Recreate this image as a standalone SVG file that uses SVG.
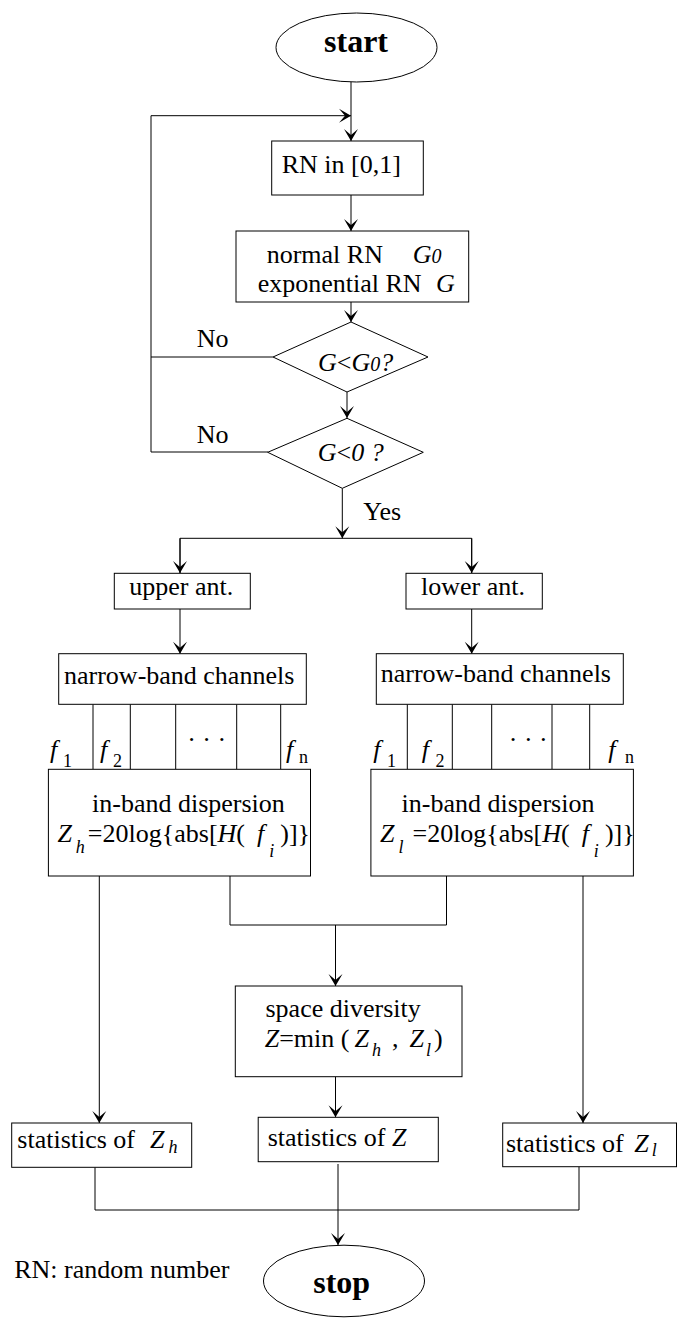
<svg xmlns="http://www.w3.org/2000/svg" width="677" height="1318" viewBox="0 0 677 1318">
<style>
.shape{fill:#fff;stroke:#000;stroke-width:1}
.ln{fill:none;stroke:#000;stroke-width:1}
.t{font-family:"Liberation Serif","Times New Roman",serif;font-size:26px;fill:#000}
.b{font-weight:bold;font-size:32px}
.i{font-style:italic}
.s{font-size:18px}
</style>
<defs>
<marker id="arr" markerUnits="userSpaceOnUse" viewBox="-13 -8 14 16" refX="0" refY="0" markerWidth="14" markerHeight="16" orient="auto">
<path d="M0,0 L-12,-7 L-6,0 L-12,7 z" fill="#000"/>
</marker>
</defs>
<rect width="677" height="1318" fill="#fff"/>

<g id="connectors">
<line class="ln" x1="351" y1="82" x2="351" y2="141" marker-end="url(#arr)"/>
<polyline class="ln" points="273,357 151,357 151,115.7 351,115.7" marker-end="url(#arr)"/>
<polyline class="ln" points="268,452 151,452 151,357"/>
<line class="ln" x1="351" y1="195" x2="351" y2="231" marker-end="url(#arr)"/>
<line class="ln" x1="351" y1="302" x2="351" y2="322" marker-end="url(#arr)"/>
<line class="ln" x1="347" y1="392" x2="347" y2="418" marker-end="url(#arr)"/>
<line class="ln" x1="342.3" y1="488.3" x2="342.3" y2="538.3" marker-end="url(#arr)"/>
<polyline class="ln" points="180,573 180,538.3 471.7,538.3 471.7,573"/>
<line class="ln" x1="180" y1="538.3" x2="180" y2="573" marker-end="url(#arr)"/>
<line class="ln" x1="471.7" y1="538.3" x2="471.7" y2="573" marker-end="url(#arr)"/>
<line class="ln" x1="180" y1="609" x2="180" y2="653.7" marker-end="url(#arr)"/>
<line class="ln" x1="471.7" y1="609" x2="471.7" y2="653.7" marker-end="url(#arr)"/>
<path class="ln" d="M93,704.3V769.3M130.3,704.3V769.3M175.7,704.3V769.3M236.7,704.3V769.3M280.7,704.3V769.3"/>
<path class="ln" d="M407.3,704.3V769.3M452.3,704.3V769.3M491.7,704.3V769.3M552,704.3V769.3M589.7,704.3V769.3"/>
<line class="ln" x1="99.3" y1="876" x2="99.3" y2="1123" marker-end="url(#arr)"/>
<line class="ln" x1="583" y1="876" x2="583" y2="1123" marker-end="url(#arr)"/>
<polyline class="ln" points="230,876 230,925 446.5,925 446.5,876"/>
<line class="ln" x1="335.5" y1="925" x2="335.5" y2="986" marker-end="url(#arr)"/>
<line class="ln" x1="335.5" y1="1076.7" x2="335.5" y2="1117.3" marker-end="url(#arr)"/>
<polyline class="ln" points="95,1167.3 95,1210 579,1210 579,1166.7"/>
<line class="ln" x1="338" y1="1164" x2="338" y2="1245" marker-end="url(#arr)"/>
<text class="t" x="196.7" y="346.7">No</text>
<text class="t" x="196.7" y="443.3">No</text>
<text class="t" x="363.3" y="520">Yes</text>
</g>

<g id="start">
<ellipse class="shape" cx="356.5" cy="47.5" rx="80.5" ry="34.5"/>
<text class="t b" x="356" y="52" text-anchor="middle">start</text>
</g>

<g id="rn01">
<rect class="shape" x="271.7" y="141" width="151.6" height="54"/>
<text class="t" x="281.7" y="173">RN in [0,1]</text>
</g>

<g id="rngen">
<rect class="shape" x="236" y="231" width="232.7" height="71"/>
<text class="t" x="266.7" y="263">normal RN</text>
<text class="t i" x="412.7" y="263">G<tspan font-size="20">0</tspan></text>
<text class="t" x="257.7" y="291.7">exponential RN</text>
<text class="t i" x="436" y="291.7">G</text>
</g>

<g id="dec1">
<polygon class="shape" points="351,322 428,357 347,392 273,357"/>
<text class="t" x="318" y="370.7"><tspan class="i">G</tspan>&lt;<tspan class="i">G</tspan><tspan class="i" font-size="20">0</tspan><tspan class="i">?</tspan></text>
</g>

<g id="dec2">
<polygon class="shape" points="347,418.3 423.3,452.3 342.3,488.3 267.7,452.3"/>
<text class="t" x="317.7" y="460.7"><tspan class="i">G</tspan>&lt;<tspan class="i">0 ?</tspan></text>
</g>

<g id="upperAnt">
<rect class="shape" x="114.3" y="573.3" width="136" height="35.7"/>
<text class="t" x="129.3" y="595">upper ant.</text>
</g>

<g id="lowerAnt">
<rect class="shape" x="406" y="573.3" width="136.3" height="35.7"/>
<text class="t" x="421" y="595">lower ant.</text>
</g>

<g id="nbUpper">
<rect class="shape" x="58.7" y="653.7" width="247.6" height="50.6"/>
<text class="t" x="64" y="684">narrow-band channels</text>
<text class="t i" x="50" y="758">f</text><text class="t s" x="63" y="766.7">1</text>
<text class="t i" x="100" y="758">f</text><text class="t s" x="113" y="766.7">2</text>
<text class="t" x="206.7" y="748" text-anchor="middle">· · ·</text>
<text class="t i" x="286" y="758">f</text><text class="t s" x="299" y="763">n</text>
</g>

<g id="nbLower">
<rect class="shape" x="376.3" y="653.7" width="247" height="50.6"/>
<text class="t" x="380.7" y="682">narrow-band channels</text>
<text class="t i" x="373.3" y="758">f</text><text class="t s" x="387" y="766.7">1</text>
<text class="t i" x="421.7" y="758">f</text><text class="t s" x="435.5" y="766.7">2</text>
<text class="t" x="528.3" y="748" text-anchor="middle">· · ·</text>
<text class="t i" x="608.3" y="758">f</text><text class="t s" x="625" y="763">n</text>
</g>

<g id="dispUpper">
<rect class="shape" x="48.4" y="769.3" width="262.1" height="106.7"/>
<text class="t" x="92" y="811.7">in-band dispersion</text>
<text class="t" x="57.4" y="841.7"><tspan class="i">Z</tspan><tspan class="s i" dx="4" dy="11">h</tspan><tspan dx="3" dy="-11">=20log{abs[</tspan><tspan class="i">H</tspan><tspan>(</tspan><tspan class="i" dx="12">f</tspan><tspan class="s i" dx="5" dy="15">i</tspan><tspan dx="6" dy="-15">)]}</tspan></text>
</g>

<g id="dispLower">
<rect class="shape" x="370.9" y="769.3" width="262.5" height="106.7"/>
<text class="t" x="401.6" y="811.7">in-band dispersion</text>
<text class="t" x="380" y="841.7"><tspan class="i">Z</tspan><tspan class="s i" dx="4" dy="11">l</tspan><tspan dx="9" dy="-11">=20log{abs[</tspan><tspan class="i">H</tspan><tspan>(</tspan><tspan class="i" dx="12">f</tspan><tspan class="s i" dx="5" dy="15">i</tspan><tspan dx="6" dy="-15">)]}</tspan></text>
</g>

<g id="diversity">
<rect class="shape" x="235.3" y="986" width="226.7" height="90.7"/>
<text class="t" x="265.5" y="1016.7">space diversity</text>
<text class="t" x="264.7" y="1047.3"><tspan class="i">Z</tspan>=min (<tspan class="i" dx="5">Z</tspan><tspan class="s i" dx="3" dy="9">h</tspan><tspan dx="11" dy="-9">,</tspan><tspan class="i" dx="11">Z</tspan><tspan class="s i" dx="2" dy="9">l</tspan><tspan dx="3" dy="-9">)</tspan></text>
</g>

<g id="statsZh">
<rect class="shape" x="11.7" y="1123" width="180" height="44.3"/>
<text class="t" x="17.3" y="1148.3">statistics of</text>
<text class="t i" x="150" y="1148.3">Z</text><text class="t s i" x="168.4" y="1153.3">h</text>
</g>

<g id="statsZ">
<rect class="shape" x="258.2" y="1117.3" width="180.1" height="44.4"/>
<text class="t" x="267.7" y="1146">statistics of <tspan class="i">Z</tspan></text>
</g>

<g id="statsZl">
<rect class="shape" x="502.7" y="1123" width="173.8" height="43.7"/>
<text class="t" x="506" y="1151.7">statistics of</text>
<text class="t i" x="634.3" y="1151.7">Z</text><text class="t s i" x="651.7" y="1156">l</text>
</g>

<g id="stop">
<ellipse class="shape" cx="344" cy="1281" rx="80.5" ry="35.8"/>
<text class="t b" x="341.7" y="1293.3" text-anchor="middle">stop</text>
</g>

<g id="legend">
<text class="t" x="14.2" y="1278.3">RN: random number</text>
</g>
</svg>
